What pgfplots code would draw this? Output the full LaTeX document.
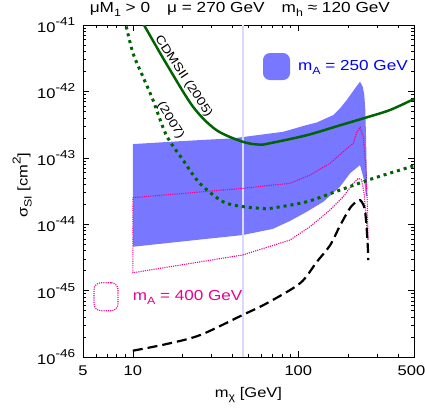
\documentclass[border=0pt]{standalone}
\usepackage{fontspec}
\setmainfont{Liberation Sans}[FakeStretch=1.18]
\usepackage{pgfplots}
\pgfplotsset{compat=1.18}
\definecolor{blueA}{RGB}{119,119,255}
\definecolor{dgreen}{RGB}{0,100,0}
\definecolor{lav}{RGB}{220,215,252}
\newcommand\subs[1]{\raisebox{-0.28em}{\fontsize{10.5}{11}\selectfont #1}}
\newcommand\sups[1]{\raisebox{0.5em}{\fontsize{11.5}{12}\selectfont #1}}
\begin{document}
\fontsize{14}{16}\selectfont
\begin{tikzpicture}
\begin{axis}[
  name=ax,
  scale only axis, width=331pt, height=332pt,
  xmode=log, ymode=log,
  xmin=5, xmax=500, ymin=1e-46, ymax=1e-41,
  xtick={5,10,100,500}, xticklabels={5,10,100,\hspace*{-5pt}500},
  minor xtick={6,7,8,9,20,30,40,50,60,70,80,90,200,300,400},
  ytick={1e-46,1e-45,1e-44,1e-43,1e-42,1e-41},
  yticklabels={10\sups{-46},10\sups{-45},10\sups{-44},10\sups{-43},10\sups{-42},10\sups{-41}},
  minor ytick={2e-46,3e-46,4e-46,5e-46,6e-46,7e-46,8e-46,9e-46,
               2e-45,3e-45,4e-45,5e-45,6e-45,7e-45,8e-45,9e-45,
               2e-44,3e-44,4e-44,5e-44,6e-44,7e-44,8e-44,9e-44,
               2e-43,3e-43,4e-43,5e-43,6e-43,7e-43,8e-43,9e-43,
               2e-42,3e-42,4e-42,5e-42,6e-42,7e-42,8e-42,9e-42},
  tick align=inside, xtick pos=both, ytick pos=both,
  major tick length=6pt, minor tick length=3pt,
  every tick/.style={black, line width=0.6pt},
  axis line style={line width=0.8pt},
  tick label style={font=\fontsize{14}{16}\selectfont},
  xticklabel style={yshift=-4pt},
  yticklabel style={xshift=-3pt},
  xlabel={m\subs{χ} [GeV]},
  ylabel={σ\subs{SI} [cm\sups{2}]},
  label style={font=\fontsize{14}{16}\selectfont},
  xlabel style={at={(axis description cs:0.5,0)}, anchor=base, yshift=-40pt},
  ylabel style={at={(axis description cs:-0.184,0.518)}, anchor=center},
  title={μM\subs{1} > 0\hspace{17pt}μ = 270 GeV\hspace{17pt}m\subs{h} ≈ 120 GeV},
  title style={at={(axis description cs:0.474,1)}, anchor=base, yshift=7pt, font=\fontsize{14.6}{16}\selectfont},
]
% blue region (m_A = 250 GeV)
\addplot[draw=none, fill=blueA] coordinates {
 (10,1.61e-43) (20,1.79e-43) (40.5,1.97e-43) (81.2,2.47e-43) (112.4,3.12e-43)
 (129.1,3.4e-43) (162.7,4.41e-43) (178.6,5.56e-43) (196,7.41e-43) (220,1.11e-42)
 (236,1.40e-42) (244.9,1.18e-42) (250.4,8.83e-43) (253.9,5.25e-43) (256.5,2.08e-43)
 (259,6.55e-44) (260,3.67e-44) (261,2.75e-44) (256.5,2.60e-44) (249.5,4.63e-44)
 (236,7.79e-44) (205.3,5.85e-44) (178.6,3.67e-44) (141.6,2.18e-44) (112.4,1.54e-44)
 (89,1.12e-44) (70,8.5e-45) (46,6.87e-45) (25,5.85e-45) (10,4.58e-45)
} -- cycle;
% vertical line
\addplot[lav, line width=2pt] coordinates {(46,1e-46) (46,1e-41)};
% magenta region (m_A = 400 GeV)
\addplot[magenta, line width=1.1pt, dash pattern=on 1.1pt off 1.1pt] coordinates {
 (10,2.51e-44) (46,3.47e-44) (70.6,3.89e-44) (89.1,4.13e-44) (117.7,5.51e-44)
 (155.4,8.26e-44) (187,1.24e-43) (214.9,1.65e-43) (226,2.45e-43) (236,2.88e-43)
 (247,2.08e-43) (256.5,6.55e-44) (261.2,2.09e-44) (263.6,5.78e-45)
 (256.5,1.30e-44) (249.5,2.92e-44) (241.5,4.63e-44) (230,4.91e-44) (214.9,4.13e-44)
 (187,2.60e-44) (155.4,1.64e-44) (117.7,9.17e-45) (89.1,5.78e-45) (46,3.44e-45)
 (10,1.86e-45)
} -- cycle;
% CDMSII 2005
\addplot[dgreen, line width=2.5pt, smooth] coordinates {
 (11,1.29e-41) (11.68,1e-41) (15.9,2.65e-42) (23.1,5.89e-43) (31.9,2.63e-43)
 (46.3,1.74e-43) (58.4,1.58e-43) (67.4,1.66e-43) (112.4,2.19e-43) (178.6,3.09e-43)
 (259,4.07e-43) (358,5.25e-43) (495,7.59e-43) (520,8.0e-43)
};
% CDMSII 2007
\addplot[dgreen, line width=3pt, dash pattern=on 3pt off 4pt, smooth] coordinates {
 (8.9,1.2e-41) (9.13,9.43e-42) (10.03,3.75e-42) (11.52,1.66e-42) (13.24,7.42e-43)
 (15.93,2.20e-43) (20.1,9.27e-44) (25.4,4.13e-44) (35.1,2.18e-44) (46.3,1.84e-44)
 (61.2,1.73e-44) (67.4,1.73e-44) (112.4,2.18e-44) (178.6,3.27e-44) (284,4.91e-44)
 (495,7.53e-44) (520,7.8e-44)
};
% black dashed
\addplot[black, line width=2.2pt, dash pattern=on 10pt off 5pt, smooth] coordinates {
 (10,1.245e-46) (16,1.57e-46) (25.5,2.14e-46) (46,4.29e-46) (64.4,6.44e-46)
 (102.4,1.29e-45) (129.1,2.7e-45) (155.4,4.8e-45) (178.6,9.5e-45) (205.3,1.75e-44)
 (225,2.2e-44) (236,2.31e-44) (245,2.05e-44) (252.8,1.64e-44) (258.5,9e-45)
 (261.5,5.78e-45) (263.5,4.08e-45) (264.5,2.89e-45)
};
% key glyphs and labels
\node[fill=blueA, minimum width=27pt, minimum height=27pt, rounded corners=7pt, inner sep=0pt]
  at (rel axis cs:0.5846,0.875) {};
\node[anchor=base west, inner sep=0pt, text={rgb,255:red,0;green,0;blue,255}, font=\fontsize{14.5}{16}\selectfont]
  at (rel axis cs:0.6495,0.8645) {m\subs{A} = 250 GeV};
\node[draw=magenta, line width=1.1pt, dash pattern=on 1.1pt off 1.1pt, minimum width=24pt, minimum height=28pt, rounded corners=7pt, inner sep=0pt]
  at (rel axis cs:0.0695,0.1816) {};
\node[anchor=base west, inner sep=0pt, text=magenta, font=\fontsize{14.5}{16}\selectfont]
  at (rel axis cs:0.150,0.1717) {m\subs{A} = 400 GeV};
\node[rotate=-56.5, font=\fontsize{12}{14}\selectfont, inner sep=0pt]
  at (rel axis cs:0.3036,0.8449) {CDMSII (2005)};
\node[rotate=-58, font=\fontsize{12}{14}\selectfont, inner sep=0pt]
  at (rel axis cs:0.2643,0.7123) {(2007)};
\end{axis}
\pgfresetboundingbox
\path[use as bounding box] ([xshift=-83pt,yshift=-52pt]ax.south west) rectangle ([xshift=11pt,yshift=25pt]ax.north east);
\end{tikzpicture}
\end{document}
